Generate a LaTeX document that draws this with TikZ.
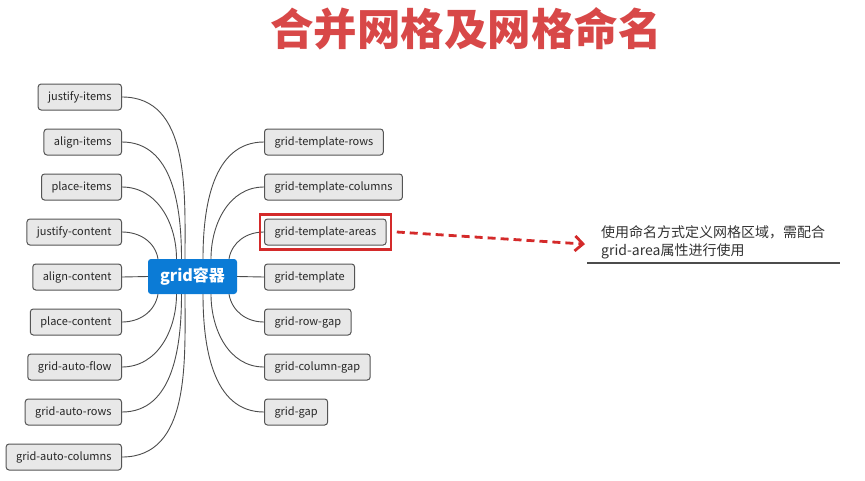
\documentclass[tikz,border=0pt]{standalone}
\usepackage{fontspec}
\setmainfont{Noto Sans CJK SC}
\usepackage{tikz}
\usetikzlibrary{arrows.meta,positioning,calc,fit}
\definecolor{hubblue}{HTML}{0B7BD6}
\definecolor{itemfill}{HTML}{E8E8E8}
\definecolor{itemline}{HTML}{555555}
\definecolor{titlered}{HTML}{D84848}
\definecolor{markred}{HTML}{D42A2A}
\tikzset{
  >=Stealth,
  every node/.append style={font=\footnotesize},
}

\begin{document}
\begin{tikzpicture}[
  x=1pt, y=-1pt,
  item/.style={
    rectangle,
    draw=itemline,
    fill=itemfill,
    line width=1pt,
    minimum height=26pt,
    inner xsep=10pt,
    rounded corners=3pt,
    text=black!85,
    font=\fontsize{11}{13}\selectfont
  },
  hub/.style={
    rectangle,
    fill=hubblue,
    minimum width=89pt,
    minimum height=35pt,
    rounded corners=3pt,
    text=white,
    font=\fontsize{16}{18}\selectfont\bfseries
  },
  link/.style={draw=black!70, line width=0.9pt},
  dashlink/.style={-{Straight Barb[length=8pt,width=15pt]}, draw=markred, line width=2.8pt, dash pattern=on 8pt off 5pt},
  areaframe/.style={draw=markred, line width=2.2pt, inner sep=4pt},
  notebox/.style={
    anchor=south west,
    align=left,
    text width=230pt,
    inner xsep=14pt,
    inner ysep=4pt,
    text=black!80,
    font=\fontsize{14}{18}\selectfont
  }
]

% --- Page ---
\fill[white] (0,0) rectangle (865,480);

% --- Title ---
\node[text=titlered, font=\fontsize{43.5}{46}\selectfont\bfseries] (title) at (466,29) {合并网格及网格命名};

% --- Hub ---
\node[hub] (hub) at (192.5,276.5) {grid容器};

% --- Left column ---
\node[item, anchor=east] (ji) at (122,97) {justify-items};
\node[item, anchor=east] (ai) at (122,142) {align-items};
\node[item, anchor=east] (pi) at (122,187) {place-items};
\node[item, anchor=east] (jc) at (122,232) {justify-content};
\node[item, anchor=east] (ac) at (122,277) {align-content};
\node[item, anchor=east] (pc) at (122,322) {place-content};
\node[item, anchor=east] (gaf) at (122,367) {grid-auto-flow};
\node[item, anchor=east] (gar) at (122,412) {grid-auto-rows};
\node[item, anchor=east] (gac) at (122,457) {grid-auto-columns};

% --- Right column ---
\node[item, anchor=west] (gtr) at (264,142) {grid-template-rows};
\node[item, anchor=west] (gtc) at (264,187) {grid-template-columns};
\node[item, anchor=west] (gta) at (264,232) {grid-template-areas};
\node[item, anchor=west] (gt) at (264,277) {grid-template};
\node[item, anchor=west] (grg) at (264,322) {grid-row-gap};
\node[item, anchor=west] (gcg) at (264,367) {grid-column-gap};
\node[item, anchor=west] (gg) at (264,412) {grid-gap};

% Left branches
\draw[link] ($(hub.north)+(-7.5,0)$) to[out=90, in=0] (ji.east);
\draw[link] ($(hub.north)+(-11,0)$) to[out=90, in=0] (ai.east);
\draw[link] ($(hub.north)+(-16,0)$) to[out=90, in=0] (pi.east);
\draw[link] ($(hub.north)+(-34.5,0)$) to[out=100, in=0] (jc.east);
\draw[link] (hub.west) -- (ac.east);
\draw[link] ($(hub.south)+(-34.5,0)$) to[out=260, in=0] (pc.east);
\draw[link] ($(hub.south)+(-16,0)$) to[out=270, in=0] (gaf.east);
\draw[link] ($(hub.south)+(-11,0)$) to[out=270, in=0] (gar.east);
\draw[link] ($(hub.south)+(-7.5,0)$) to[out=270, in=0] (gac.east);

% Right branches
\draw[link] ($(hub.north)+(10.5,0)$) to[out=90, in=180] (gtr.west);
\draw[link] ($(hub.north)+(18.5,0)$) to[out=90, in=180] (gtc.west);
\draw[link] ($(hub.north)+(36.5,0)$) to[out=80, in=180] (gta.west);
\draw[link] (hub.east) -- (gt.west);
\draw[link] ($(hub.south)+(36.5,0)$) to[out=280, in=180] (grg.west);
\draw[link] ($(hub.south)+(18.5,0)$) to[out=270, in=180] (gcg.west);
\draw[link] ($(hub.south)+(10.5,0)$) to[out=270, in=180] (gg.west);

% --- Highlight and note ---
\node[areaframe, fit=(gta)] (mark) {};
\node[notebox] (note) at (587,263) {使用命名方式定义网格区域，需配合\\grid-area属性进行使用};
\draw[line width=1.2pt, draw=black!70] (note.south west) -- ([xshift=-5pt]note.south east);
\draw[dashlink] ([xshift=5pt]mark.east) -- ([xshift=-2pt, yshift=-2pt]note.west);

\end{tikzpicture}
\end{document}
